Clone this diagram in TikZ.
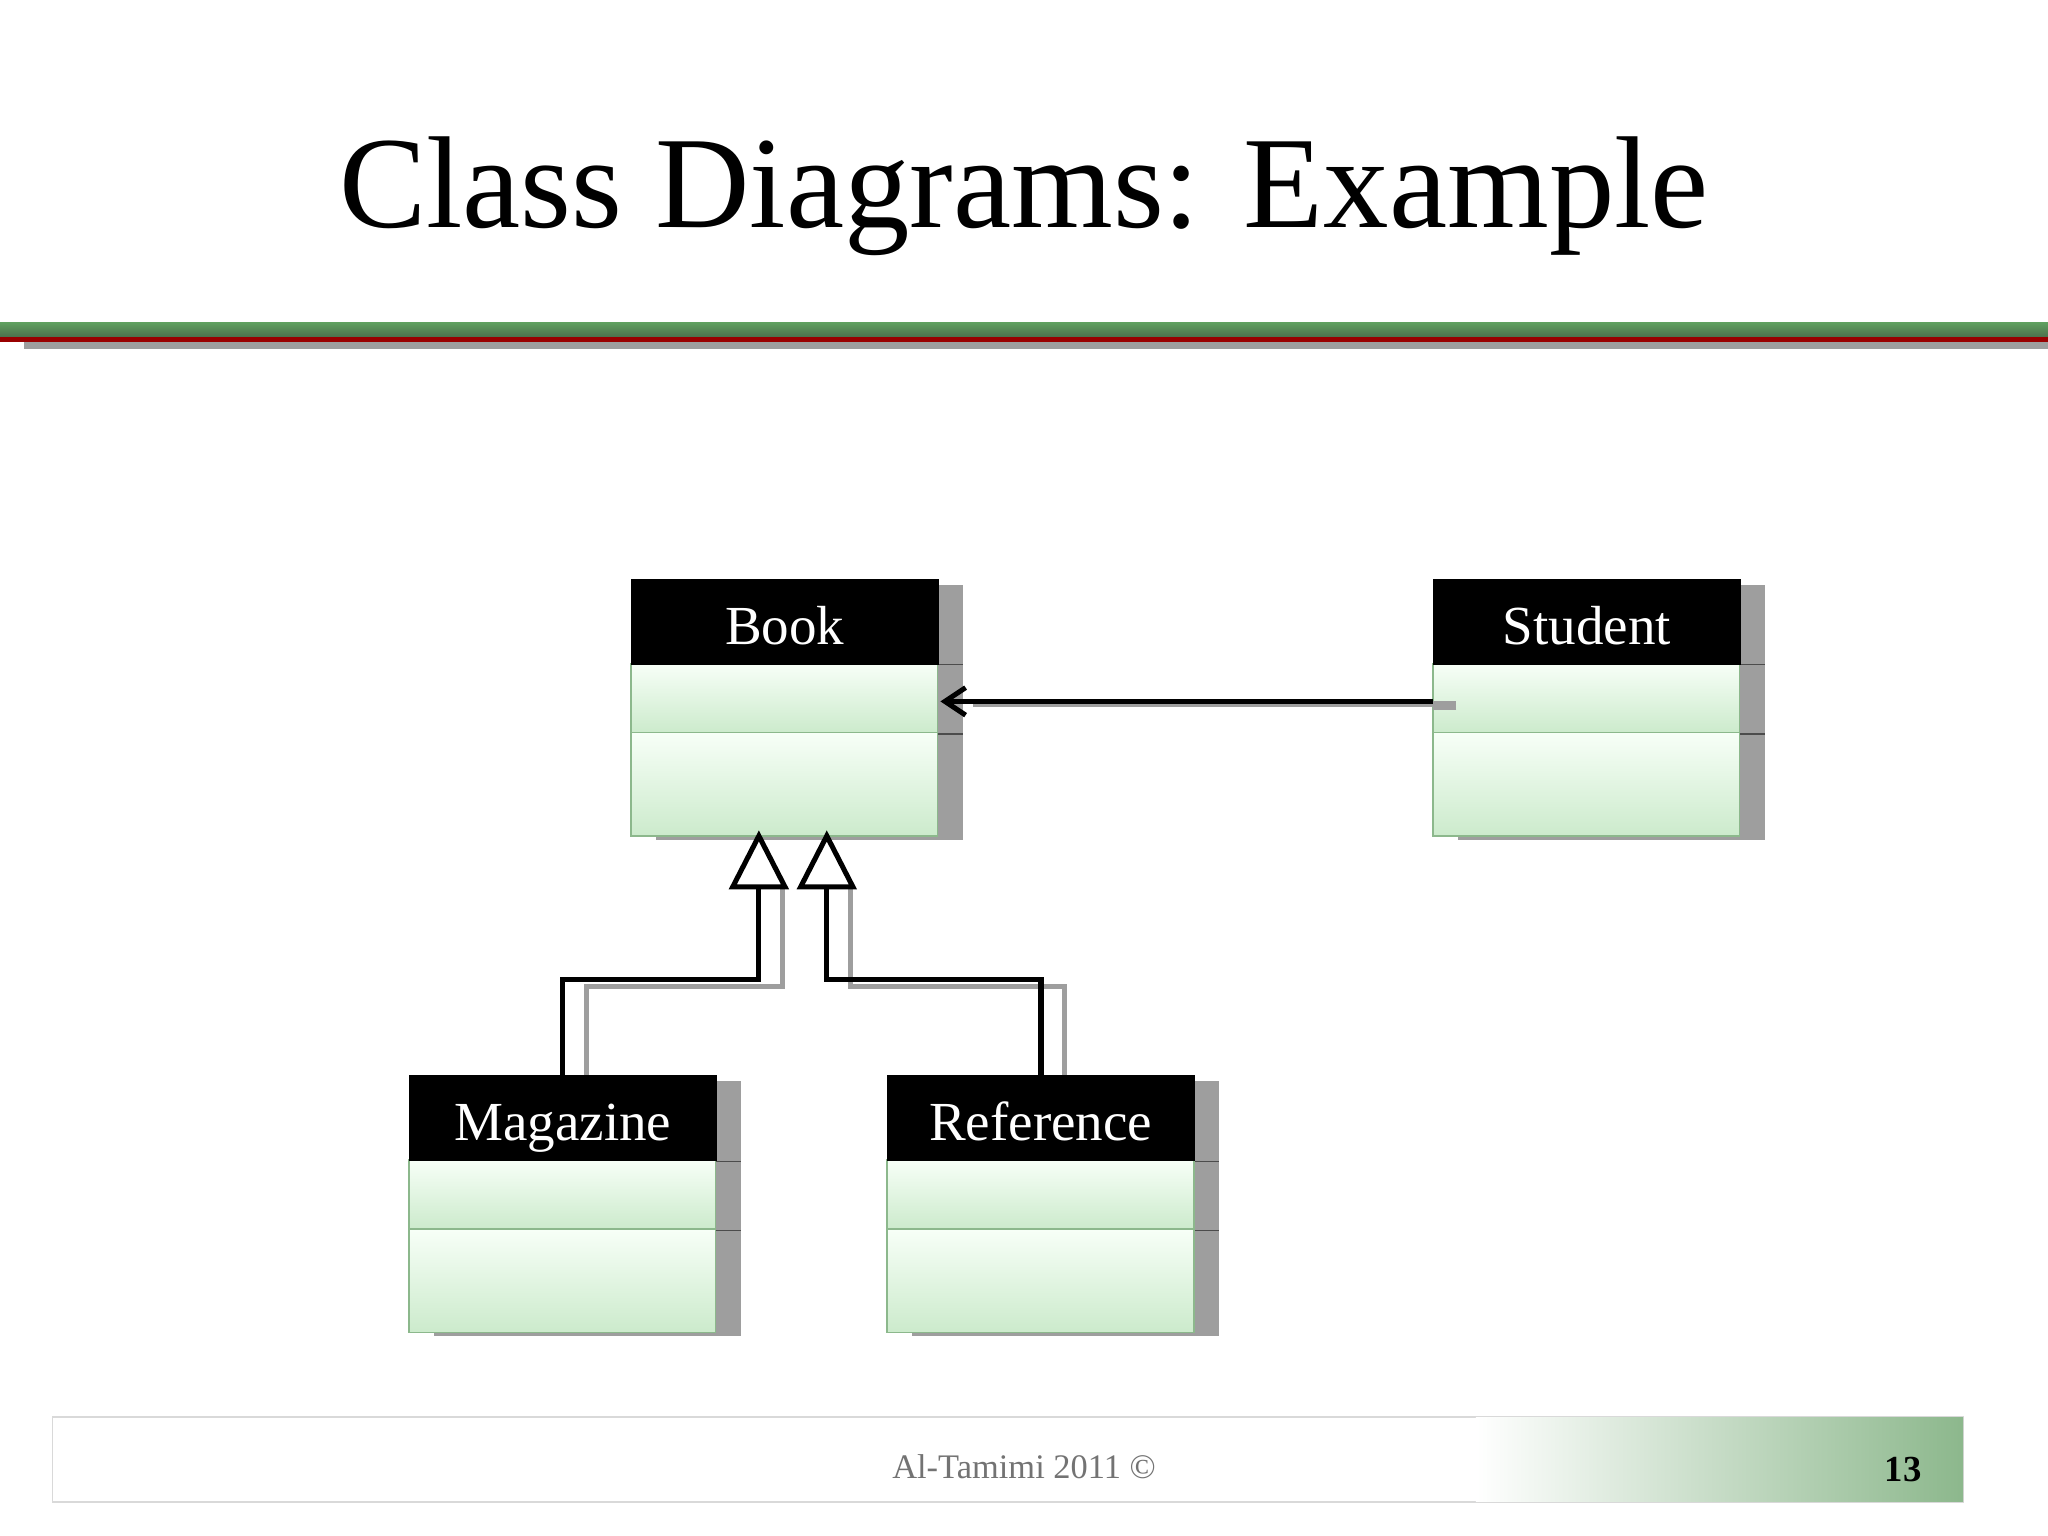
\documentclass[tikz,border=0pt]{standalone}
\usepackage{fontspec}
\setmainfont{Liberation Serif}
\usetikzlibrary{arrows.meta}
\definecolor{cgreen}{rgb}{0.55,0.72,0.55}
\definecolor{shadowgray}{rgb}{0.62,0.62,0.62}
\tikzset{
 comp/.style={draw=cgreen, line width=0.6pt, top color=green!3!white, bottom color={rgb,1:red,0.80;green,0.92;blue,0.80}},
 hdr/.style={fill=black, draw=black, text=white, font=\fontsize{24}{28}\selectfont, inner sep=0pt, text height=25pt, text depth=5pt},
 gen/.style={line width=2.2pt, black},
 genshadow/.style={line width=2.2pt, shadowgray},
}
\newcommand{\umlclass}[4]{% name, x, y, label
 \fill[shadowgray] (#2+235,#3+5) rectangle (#2+254,#3+200);
 \fill[shadowgray] (#2+19,#3+197) rectangle (#2+254,#3+200);
 \draw[black!70,line width=0.5pt] (#2+235,#3+66) -- (#2+254,#3+66) (#2+235,#3+119) -- (#2+254,#3+119);
 \shade[comp] (#2,#3+65) rectangle (#2+235,#3+118);
 \shade[comp] (#2,#3+118) rectangle (#2+235,#3+197);
 \node[hdr, anchor=north west, minimum width=235*0.02cm, minimum height=65*0.02cm] (#1) at (#2,#3) {#4};
}
\begin{document}
\begin{tikzpicture}[x=0.02cm,y=-0.02cm]
\useasboundingbox[fill=white] (0,0) rectangle (1568,1176);
\node (title) at (784,150) {\fontsize{57}{64}\selectfont Class Diagrams: Example};
% rule
\fill[shadowgray] (18,262) rectangle (1568,267);
\fill[red!60!black] (0,258) rectangle (1568,262);
\shade[top color=green!25!gray, bottom color=green!20!black!70] (0,247) rectangle (1568,258);

\umlclass{book}{483}{443}{Book}
\umlclass{student}{1097}{443}{Student}
\umlclass{magazine}{313}{823}{Magazine}
\umlclass{reference}{679}{823}{Reference}

% generalisations
\coordinate (t1) at (581,679);
\coordinate (t2) at (633,679);
\draw[genshadow] (599,679) -- (599,755) -- (449,755) -- (449,823);
\draw[genshadow] (651,679) -- (651,755) -- (815,755) -- (815,823);
\draw[gen] (t1) -- (581,750) -- (431,750) -- (magazine.north -| 431,0);
\draw[gen] (t2) -- (633,750) -- (797,750) -- (reference.north -| 797,0);
\draw[gen, fill=white, line join=miter] (561,679) -- (581,640) -- (601,679) -- cycle;
\draw[gen, fill=white, line join=miter] (613,679) -- (633,640) -- (653,679) -- cycle;

% association
\coordinate (sa) at (1097,537);
\coordinate (ba) at (720,537);
\draw[line width=4pt, shadowgray] (1115,540) -- (1097,540);
\draw[line width=1.2pt, shadowgray] (1097,540) -- (745,540);
\draw[line width=2.2pt, -{Straight Barb[length=9pt,width=12pt]}] (sa) -- (ba);

% footer
\draw[black!15, line width=0.6pt] (40,1085) rectangle (1503,1150);
\shade[left color=white, right color=cgreen] (1130,1085.5) rectangle (1503,1149.5);
\node[text=black!55, font=\fontsize{15}{18}\selectfont] (foot) at (784,1123) {Al-Tamimi 2011 ©};
\node[font=\bfseries\fontsize{16}{18}\selectfont] (page) at (1457,1125) {13};
\end{tikzpicture}
\end{document}
